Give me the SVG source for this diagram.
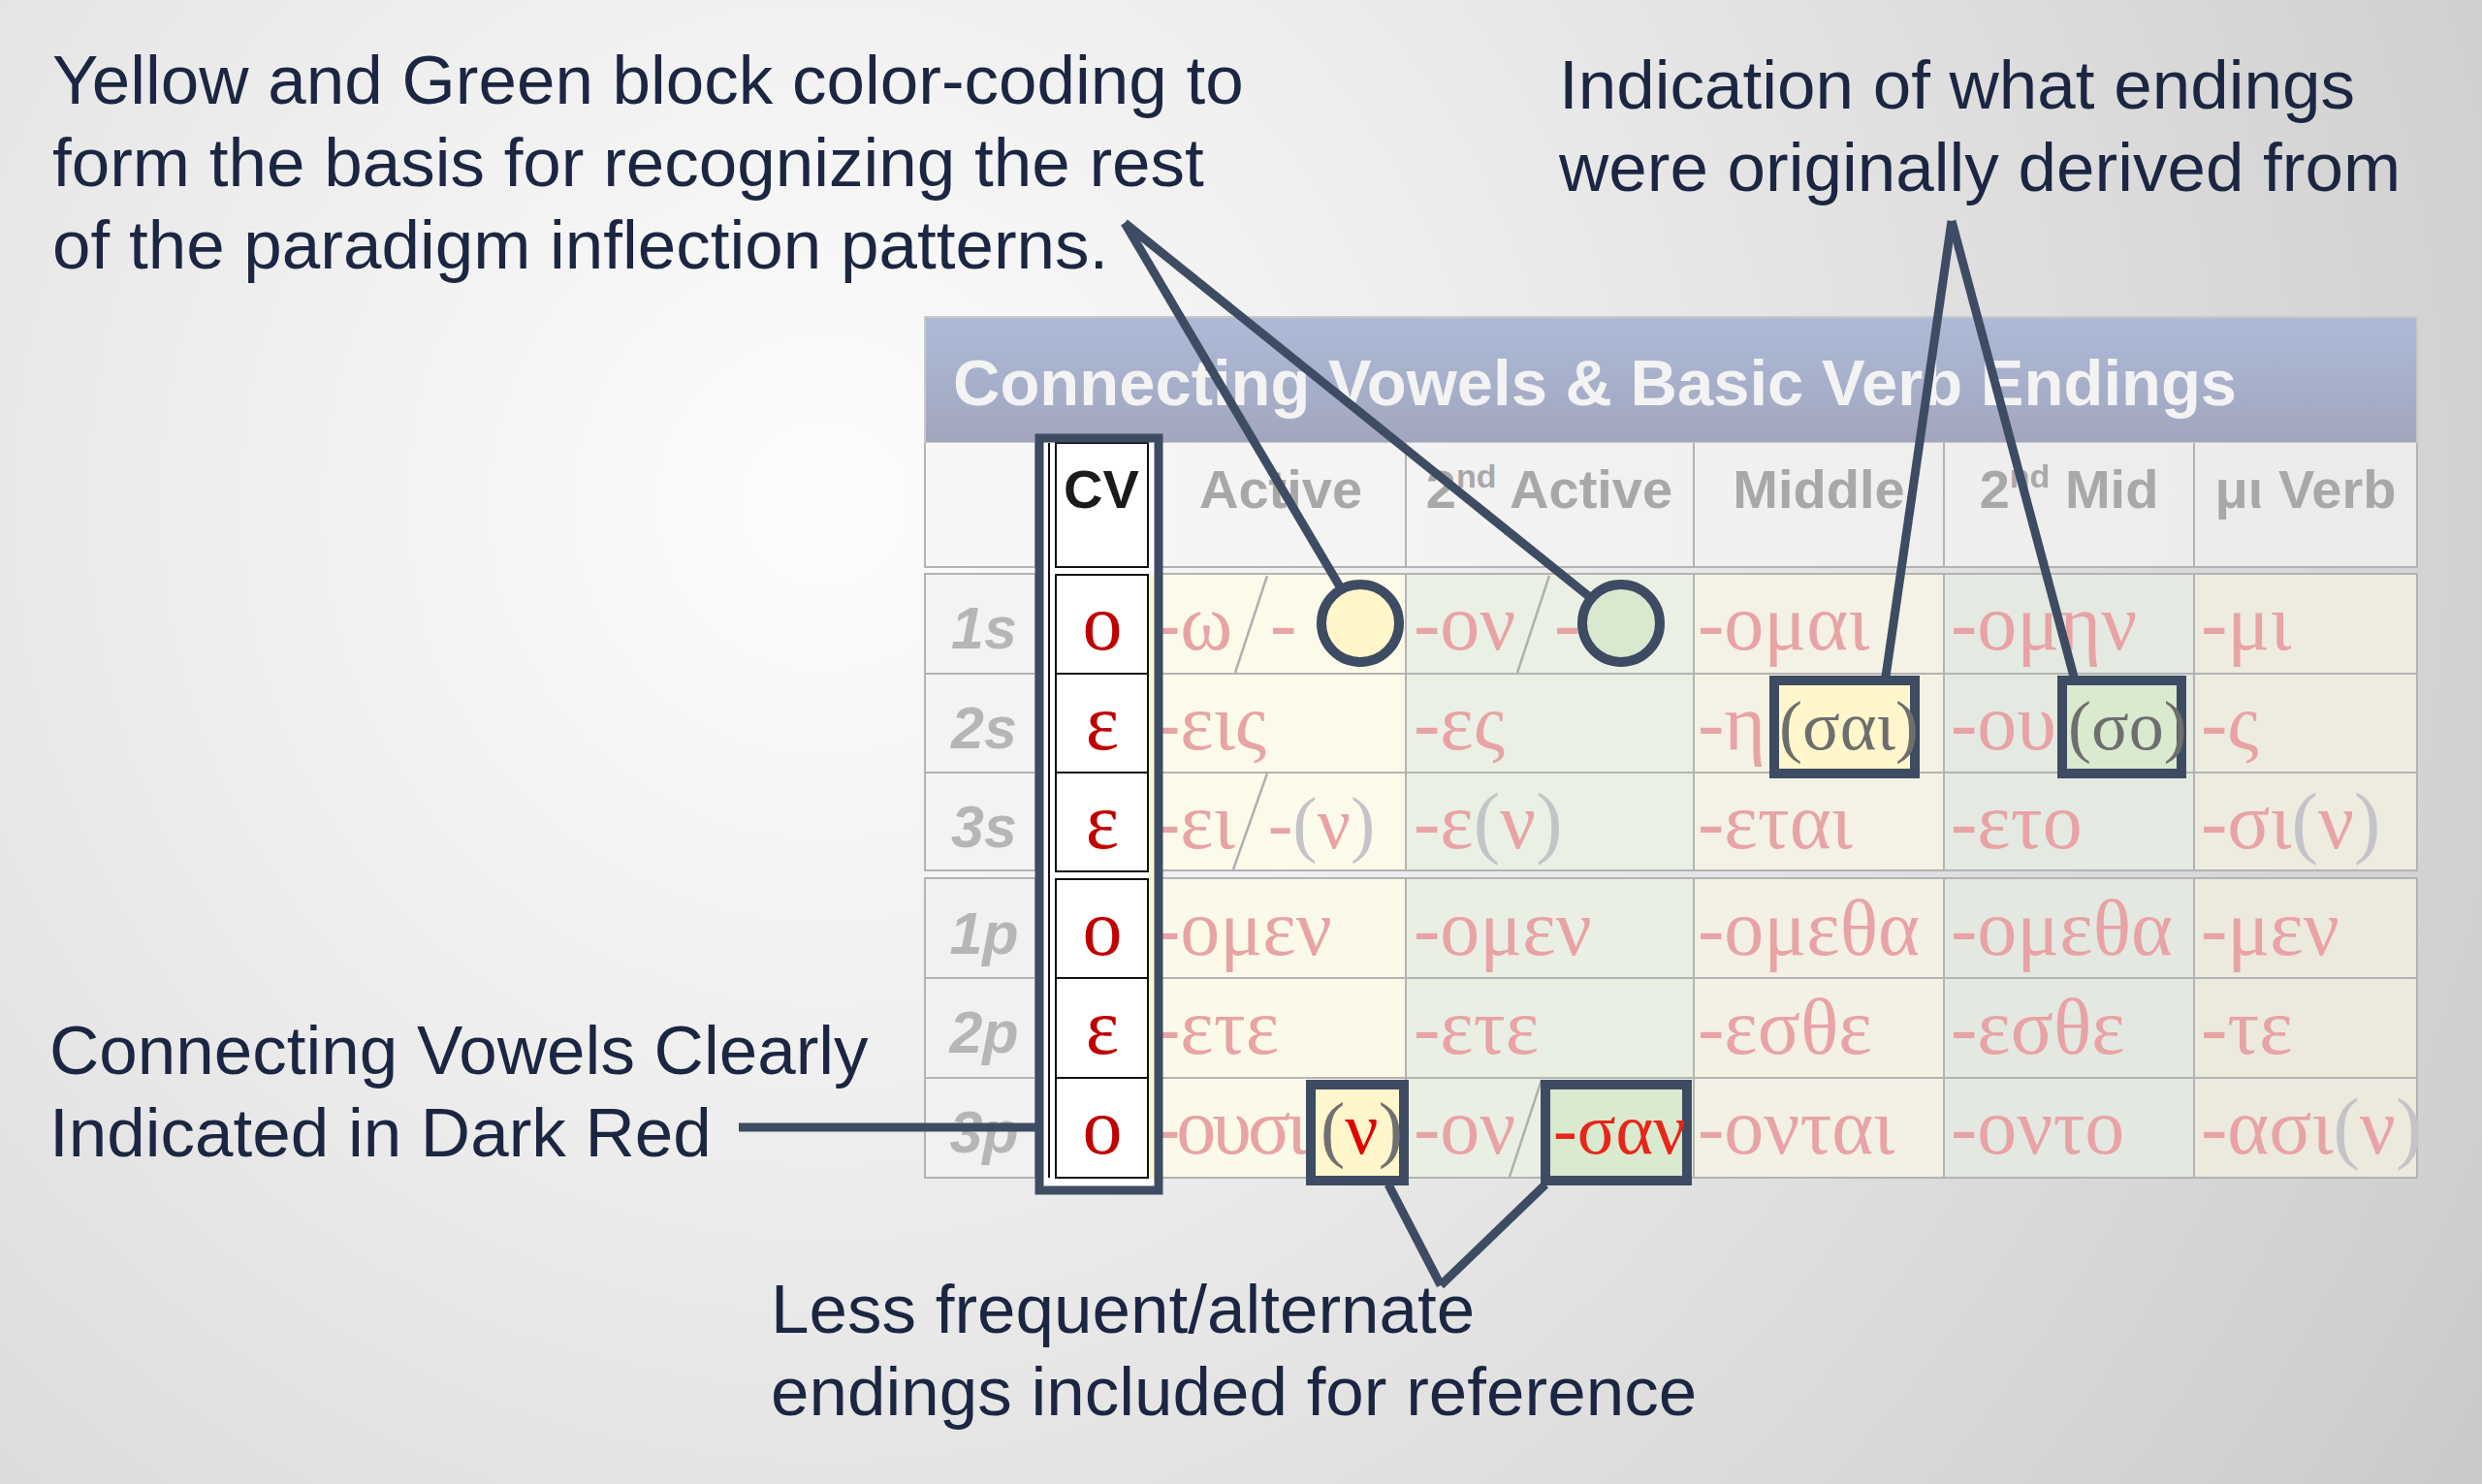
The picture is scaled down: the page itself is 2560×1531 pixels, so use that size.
<svg xmlns="http://www.w3.org/2000/svg" width="2560" height="1531" viewBox="0 0 2560 1531">
<defs>
<radialGradient id="bg" cx="850" cy="520" r="2150" gradientUnits="userSpaceOnUse">
<stop offset="0" stop-color="#fdfdfd"/>
<stop offset="0.3" stop-color="#eeeeee"/>
<stop offset="0.6" stop-color="#dddddd"/>
<stop offset="0.85" stop-color="#cfcfcf"/>
<stop offset="1" stop-color="#c3c3c3"/>
</radialGradient>
<linearGradient id="titleg" x1="0" y1="0" x2="0" y2="1">
<stop offset="0" stop-color="#acbbd8"/>
<stop offset="1" stop-color="#a2a6bd"/>
</linearGradient>
<linearGradient id="hdrg" x1="0" y1="0" x2="1" y2="0">
<stop offset="0" stop-color="#f7f7f7"/>
<stop offset="1" stop-color="#ebebeb"/>
</linearGradient>
<style>
.ann{font-family:"Liberation Sans",Arial,sans-serif;font-size:71px;fill:#1b2642}
.title{font-family:"Liberation Sans",Arial,sans-serif;font-weight:bold;font-size:67px;fill:#f3f3f3}
.hdr{font-family:"Liberation Sans",Arial,sans-serif;font-weight:bold;font-size:56px;fill:#a8a8a8;text-anchor:middle}
.lbl{font-family:"Liberation Sans",Arial,sans-serif;font-weight:bold;font-style:italic;font-size:61px;fill:#b6b6b6;text-anchor:middle}
.gk{font-family:"Liberation Serif","DejaVu Serif",serif;font-size:82px;fill:#e8a3a5}
.cv{font-family:"Liberation Serif","DejaVu Serif",serif;font-size:82px;fill:#c00000;text-anchor:middle}
.par{fill:#c4c4c8}
.grid{stroke:#b3b3b3;stroke-width:2;fill:none}
.slash{stroke:#b0b0b0;stroke-width:2.5}
.conn{stroke:#3d4c62;stroke-width:9;fill:none}
.node{stroke:#3d4c62;stroke-width:10}
.cvc{fill:#ffffff;stroke:#111111;stroke-width:2}
</style>
</defs>
<rect x="0" y="0" width="2560" height="1531" fill="url(#bg)"/>

<g id="table">
<rect x="954" y="327" width="1539" height="130" fill="url(#titleg)" stroke="#c9c9c9" stroke-width="2"/>
<text class="title" x="983" y="418">Connecting Vowels &amp; Basic Verb Endings</text>
<rect x="954" y="457" width="1539" height="128" fill="url(#hdrg)"/>
<g id="cellfills">
<rect x="954" y="592" width="114" height="306" fill="#f3f3f3"/>
<rect x="954" y="906" width="114" height="309" fill="#f1f1f1"/>
<rect x="1192" y="592" width="258" height="306" fill="#fcfbea"/>
<rect x="1192" y="906" width="258" height="309" fill="#fbfae8"/>
<rect x="1450" y="592" width="297" height="306" fill="#eaf1e4"/>
<rect x="1450" y="906" width="297" height="309" fill="#e9f0e3"/>
<rect x="1747" y="592" width="258" height="306" fill="#f3f2e4"/>
<rect x="1747" y="906" width="258" height="309" fill="#f2f1e3"/>
<rect x="2005" y="592" width="258" height="306" fill="#e4eae1"/>
<rect x="2005" y="906" width="258" height="309" fill="#e3e9e0"/>
<rect x="2263" y="592" width="230" height="306" fill="#edecdf"/>
<rect x="2263" y="906" width="230" height="309" fill="#ebeadd"/>
</g>
<g class="grid">
<path d="M954 457V585H2493V457M1068 457V585M1192 457V585M1450 457V585M1747 457V585M2005 457V585M2263 457V585"/>
<path d="M954 592H2493V898H954ZM954 695H2493M954 797H2493M1068 592V898M1192 592V898M1450 592V898M1747 592V898M2005 592V898M2263 592V898"/>
<path d="M954 906H2493V1215H954ZM954 1009H2493M954 1112H2493M1068 906V1215M1192 906V1215M1450 906V1215M1747 906V1215M2005 906V1215M2263 906V1215"/>
</g>
<text class="hdr" x="1321" y="524">Active</text>
<text class="hdr" x="1598" y="524">2<tspan font-size="34" dy="-21">nd</tspan><tspan dy="21"> Active</tspan></text>
<text class="hdr" x="1876" y="524">Middle</text>
<text class="hdr" x="2134" y="524">2<tspan font-size="34" dy="-21">nd</tspan><tspan dy="21"> Mid</tspan></text>
<text class="hdr" x="2378" y="524">μι Verb</text>

<text class="lbl" x="1015" y="669">1s</text>
<text class="lbl" x="1015" y="772">2s</text>
<text class="lbl" x="1015" y="874">3s</text>
<text class="lbl" x="1015" y="984">1p</text>
<text class="lbl" x="1015" y="1086">2p</text>
<text class="lbl" x="1015" y="1189">3p</text>

<g id="endings">
<text class="gk" x="1190" y="670">-ω</text>
<line class="slash" x1="1307" y1="594" x2="1274" y2="694"/>
<text class="gk" x="1310" y="670">-</text>
<text class="gk" x="1458" y="670">-ον</text>
<line class="slash" x1="1598" y1="594" x2="1565" y2="694"/>
<text class="gk" x="1603" y="670">-</text>
<text class="gk" x="1751" y="670">-ομαι</text>
<text class="gk" x="2012" y="670">-ομην</text>
<text class="gk" x="2270" y="670">-μι</text>

<text class="gk" x="1190" y="773">-εις</text>
<text class="gk" x="1458" y="773">-ες</text>
<text class="gk" x="1751" y="773">-η</text>
<text class="gk" x="2012" y="773">-ου</text>
<text class="gk" x="2270" y="773">-ς</text>

<text class="gk" x="1190" y="875">-ει</text>
<line class="slash" x1="1307" y1="798" x2="1272" y2="897"/>
<text class="gk" x="1308" y="875" style="font-size:76px">-<tspan class="par">(</tspan>ν<tspan class="par">)</tspan></text>
<text class="gk" x="1458" y="875">-ε<tspan class="par">(</tspan>ν<tspan class="par">)</tspan></text>
<text class="gk" x="1751" y="875">-εται</text>
<text class="gk" x="2012" y="875">-ετο</text>
<text class="gk" x="2270" y="875">-σι<tspan class="par">(</tspan>ν<tspan class="par">)</tspan></text>

<text class="gk" x="1190" y="985">-ομεν</text>
<text class="gk" x="1458" y="985">-ομεν</text>
<text class="gk" x="1751" y="985">-ομεθα</text>
<text class="gk" x="2012" y="985">-ομεθα</text>
<text class="gk" x="2270" y="985">-μεν</text>

<text class="gk" x="1190" y="1087">-ετε</text>
<text class="gk" x="1458" y="1087">-ετε</text>
<text class="gk" x="1751" y="1087">-εσθε</text>
<text class="gk" x="2012" y="1087">-εσθε</text>
<text class="gk" x="2270" y="1087">-τε</text>

<text class="gk" x="1190" y="1190" letter-spacing="-4">-ουσι</text>
<text class="gk" x="1458" y="1190">-ον</text>
<line class="slash" x1="1590" y1="1114" x2="1557" y2="1214"/>
<text class="gk" x="1751" y="1190">-ονται</text>
<text class="gk" x="2012" y="1190">-οντο</text>
<text class="gk" x="2270" y="1190">-ασι<tspan class="par">(</tspan>ν<tspan class="par">)</tspan></text>
</g>
</g>

<g id="cv-column">
<rect x="1076" y="456" width="115" height="768" fill="#ffffff"/>
<line x1="1082" y1="457" x2="1082" y2="1215" stroke="#111" stroke-width="2"/>
<rect class="cvc" x="1089" y="457" width="95" height="128"/>
<rect class="cvc" x="1089" y="593" width="95" height="102"/>
<rect class="cvc" x="1089" y="695" width="95" height="102"/>
<rect class="cvc" x="1089" y="797" width="95" height="102"/>
<rect class="cvc" x="1089" y="907" width="95" height="102"/>
<rect class="cvc" x="1089" y="1009" width="95" height="103"/>
<rect class="cvc" x="1089" y="1112" width="95" height="103"/>
<rect x="1185" y="593" width="6" height="622" fill="#fbf7d0"/>
<text class="hdr" x="1136" y="524" style="fill:#1a1a1a">CV</text>
<text class="cv" x="1137" y="670">ο</text>
<text class="cv" x="1137" y="773">ε</text>
<text class="cv" x="1137" y="875">ε</text>
<text class="cv" x="1137" y="985">ο</text>
<text class="cv" x="1137" y="1087">ε</text>
<text class="cv" x="1137" y="1190">ο</text>
<rect x="1072" y="452" width="123" height="776" fill="none" stroke="#3d4c62" stroke-width="9"/>
</g>

<g id="circle-yellow"><circle class="node" cx="1403" cy="643" r="40" fill="#fff6c9" stroke-width="9"/></g>
<g id="circle-green"><circle class="node" cx="1672" cy="643" r="40" fill="#d8e9cf" stroke-width="9"/></g>

<g id="box-sai">
<rect class="node" x="1830" y="702" width="145" height="96" fill="#fff6cc"/>
<text class="gk" x="1835" y="773" style="fill:#6e6e6e;font-size:72px">(σαι)</text>
</g>
<g id="box-so">
<rect class="node" x="2127" y="702" width="123" height="96" fill="#d9eacf"/>
<text class="gk" x="2133" y="773" style="fill:#6e6e6e;font-size:72px">(σο)</text>
</g>
<g id="box-nu">
<rect class="node" x="1352" y="1119" width="96" height="99" fill="#fff6cc"/>
<text class="gk" x="1362" y="1190" style="font-size:76px;fill:#e00000"><tspan style="fill:#707070">(</tspan>ν<tspan style="fill:#707070">)</tspan></text>
</g>
<g id="box-san">
<rect class="node" x="1594" y="1119" width="146" height="99" fill="#d9eacf"/>
<text class="gk" x="1602" y="1190" style="font-size:74px;fill:#e8251a">-σαν</text>
</g>

<g id="note-colorcoding">
<text class="ann" x="54" y="107">Yellow and Green block color-coding to</text>
<text class="ann" x="54" y="192">form the basis for recognizing the rest</text>
<text class="ann" x="54" y="277">of the paradigm inflection patterns.</text>
</g>
<g id="note-derived">
<text class="ann" x="1608" y="112">Indication of what endings</text>
<text class="ann" x="1608" y="197">were originally derived from</text>
</g>
<g id="note-cv">
<text class="ann" x="51" y="1108">Connecting Vowels Clearly</text>
<text class="ann" x="51" y="1193">Indicated in Dark Red</text>
</g>
<g id="note-alternate">
<text class="ann" x="795" y="1375">Less frequent/alternate</text>
<text class="ann" x="795" y="1460">endings included for reference</text>
</g>

<g id="connectors" class="conn">
<line x1="1160" y1="230" x2="1383" y2="607"/>
<line x1="1160" y1="230" x2="1641" y2="617"/>
<line x1="2013" y1="228" x2="1945" y2="698"/>
<line x1="2013" y1="228" x2="2139" y2="698"/>
<line x1="1486" y1="1326" x2="1432" y2="1222"/>
<line x1="1486" y1="1326" x2="1594" y2="1222"/>
<line x1="762" y1="1163" x2="1068" y2="1163"/>
</g>
</svg>
